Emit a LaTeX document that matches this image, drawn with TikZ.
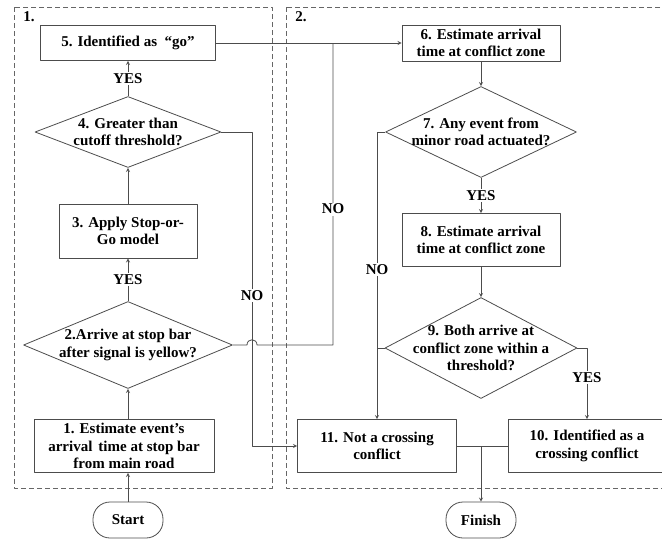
\documentclass[tikz,border=0pt]{standalone}
\usepackage{fontspec}
\setmainfont{Liberation Serif}
\usetikzlibrary{shapes.geometric}
\tikzset{
	box/.style={draw=black!70, line width=0.8pt, fill=white, align=center, inner sep=1pt},
	cond/.style={draw=black!70, line width=0.8pt, diamond, inner sep=0pt},
	term/.style={draw=black!70, line width=0.8pt, rounded corners=17pt, minimum width=70pt, minimum height=36pt},
	panel/.style={draw=black!60, line width=0.7pt, dash pattern=on 5pt off 3pt},
	flow/.style={draw=black!70, line width=0.8pt},
	tag/.style={fill=white, inner sep=1.5pt}
}
\begin{document}
\begin{tikzpicture}[x=1pt, y=-1pt, font=\bfseries\fontsize{15}{17.5}\selectfont, line join=round, >=stealth]
			\useasboundingbox (0,0) rectangle (662,539);
			% panels
			\draw[panel] (14,7) rectangle (272,488);
			\draw[panel] (286,7) rectangle (672,488);
			\node (p1) at (29,17) {1.};
			\node (p2) at (301,17) {2.};
			% left column
			\node[box, minimum width=180pt, minimum height=53pt] (n1) at (124,446)
			{1. Estimate event’s\\arrival\hspace{0.4em}time at stop bar\\from main road};
			\node[cond, minimum width=209pt, minimum height=87pt] (n2) at (128,345) {};
			\node[align=center] (t2) at (n2) {2.Arrive at stop bar\\after signal is yellow?};
			\node[box, minimum width=138pt, minimum height=54pt] (n3) at (128,231)
			{3. Apply Stop-or-\\Go model};
			\node[cond, minimum width=186pt, minimum height=71pt] (n4) at (128,132) {};
			\node[align=center] (t4) at (n4) {4. Greater than\\cutoff threshold?};
			\node[box, minimum width=175pt, minimum height=35pt] (n5) at (128,43)
			{5. Identified as\ \ “go”};
			\node[term] (start) at (128,520) {Start};
			% right column
			\node[box, minimum width=158pt, minimum height=36pt] (n6) at (481,43)
			{6. Estimate arrival\\time at conflict zone};
			\node[cond, minimum width=191pt, minimum height=91pt] (n7) at (481,132) {};
			\node[align=center] (t7) at (n7) {7. Any event from\\minor road actuated?};
			\node[box, minimum width=158pt, minimum height=53pt] (n8) at (481,240)
			{8. Estimate arrival\\time at conflict zone};
			\node[cond, minimum width=192pt, minimum height=101pt] (n9) at (481,348) {};
			\node[align=center] (t9) at (n9) {9. Both arrive at\\conflict zone within a\\threshold?};
			\node[box, minimum width=159pt, minimum height=53pt] (n11) at (377,446)
			{11. Not a crossing\\conflict};
			\node[box, minimum width=158pt, minimum height=53pt] (n10) at (587,446)
			{10. Identified as a\\crossing conflict};
			\node[term] (finish) at (481,520) {Finish};
			\coordinate (k1) at (252,446);
			\coordinate (k2) at (333,43);
			% connectors
			\draw[flow,->] (start.north) -- (start.north |- n1.south);
			\draw[flow,->] (n2.south |- n1.north) -- (n2.south);
			\draw[flow,->] (n2) -- node[tag]{YES} (n3);
			\draw[flow,->] (n3) -- (n4);
			\draw[flow,->] (n4) -- node[tag]{YES} (n5);
			\draw[flow,->] (n4.east) -| node[tag, pos=0.76]{NO} (k1) -- (n11.west);
			\draw[flow] (n2.east) -- (247,345) .. controls (247,338) and (257,338) .. (257,345)
			-| node[tag, pos=0.725]{NO} (k2);
			\draw[flow,->] (n5) -- (n6);
			\draw[flow,->] (n6) -- (n7);
			\draw[flow,->] (n7) -- node[tag]{YES} (n8);
			\draw[flow,->] (n8) -- (n9);
			\draw[flow,->] (n7.west) -| node[tag, pos=0.74]{NO} (n11.north);
			\draw[flow] (n9.west) -- (n9.west -| n11.north);
			\draw[flow,->] (n9.east) -| node[tag, pos=0.71]{YES} (n10.north);
			\draw[flow] (n11.east) -- (n10.west);
			\draw[flow,->] (finish |- n11.east) -- (finish.north);
		\end{tikzpicture}
\end{document}
